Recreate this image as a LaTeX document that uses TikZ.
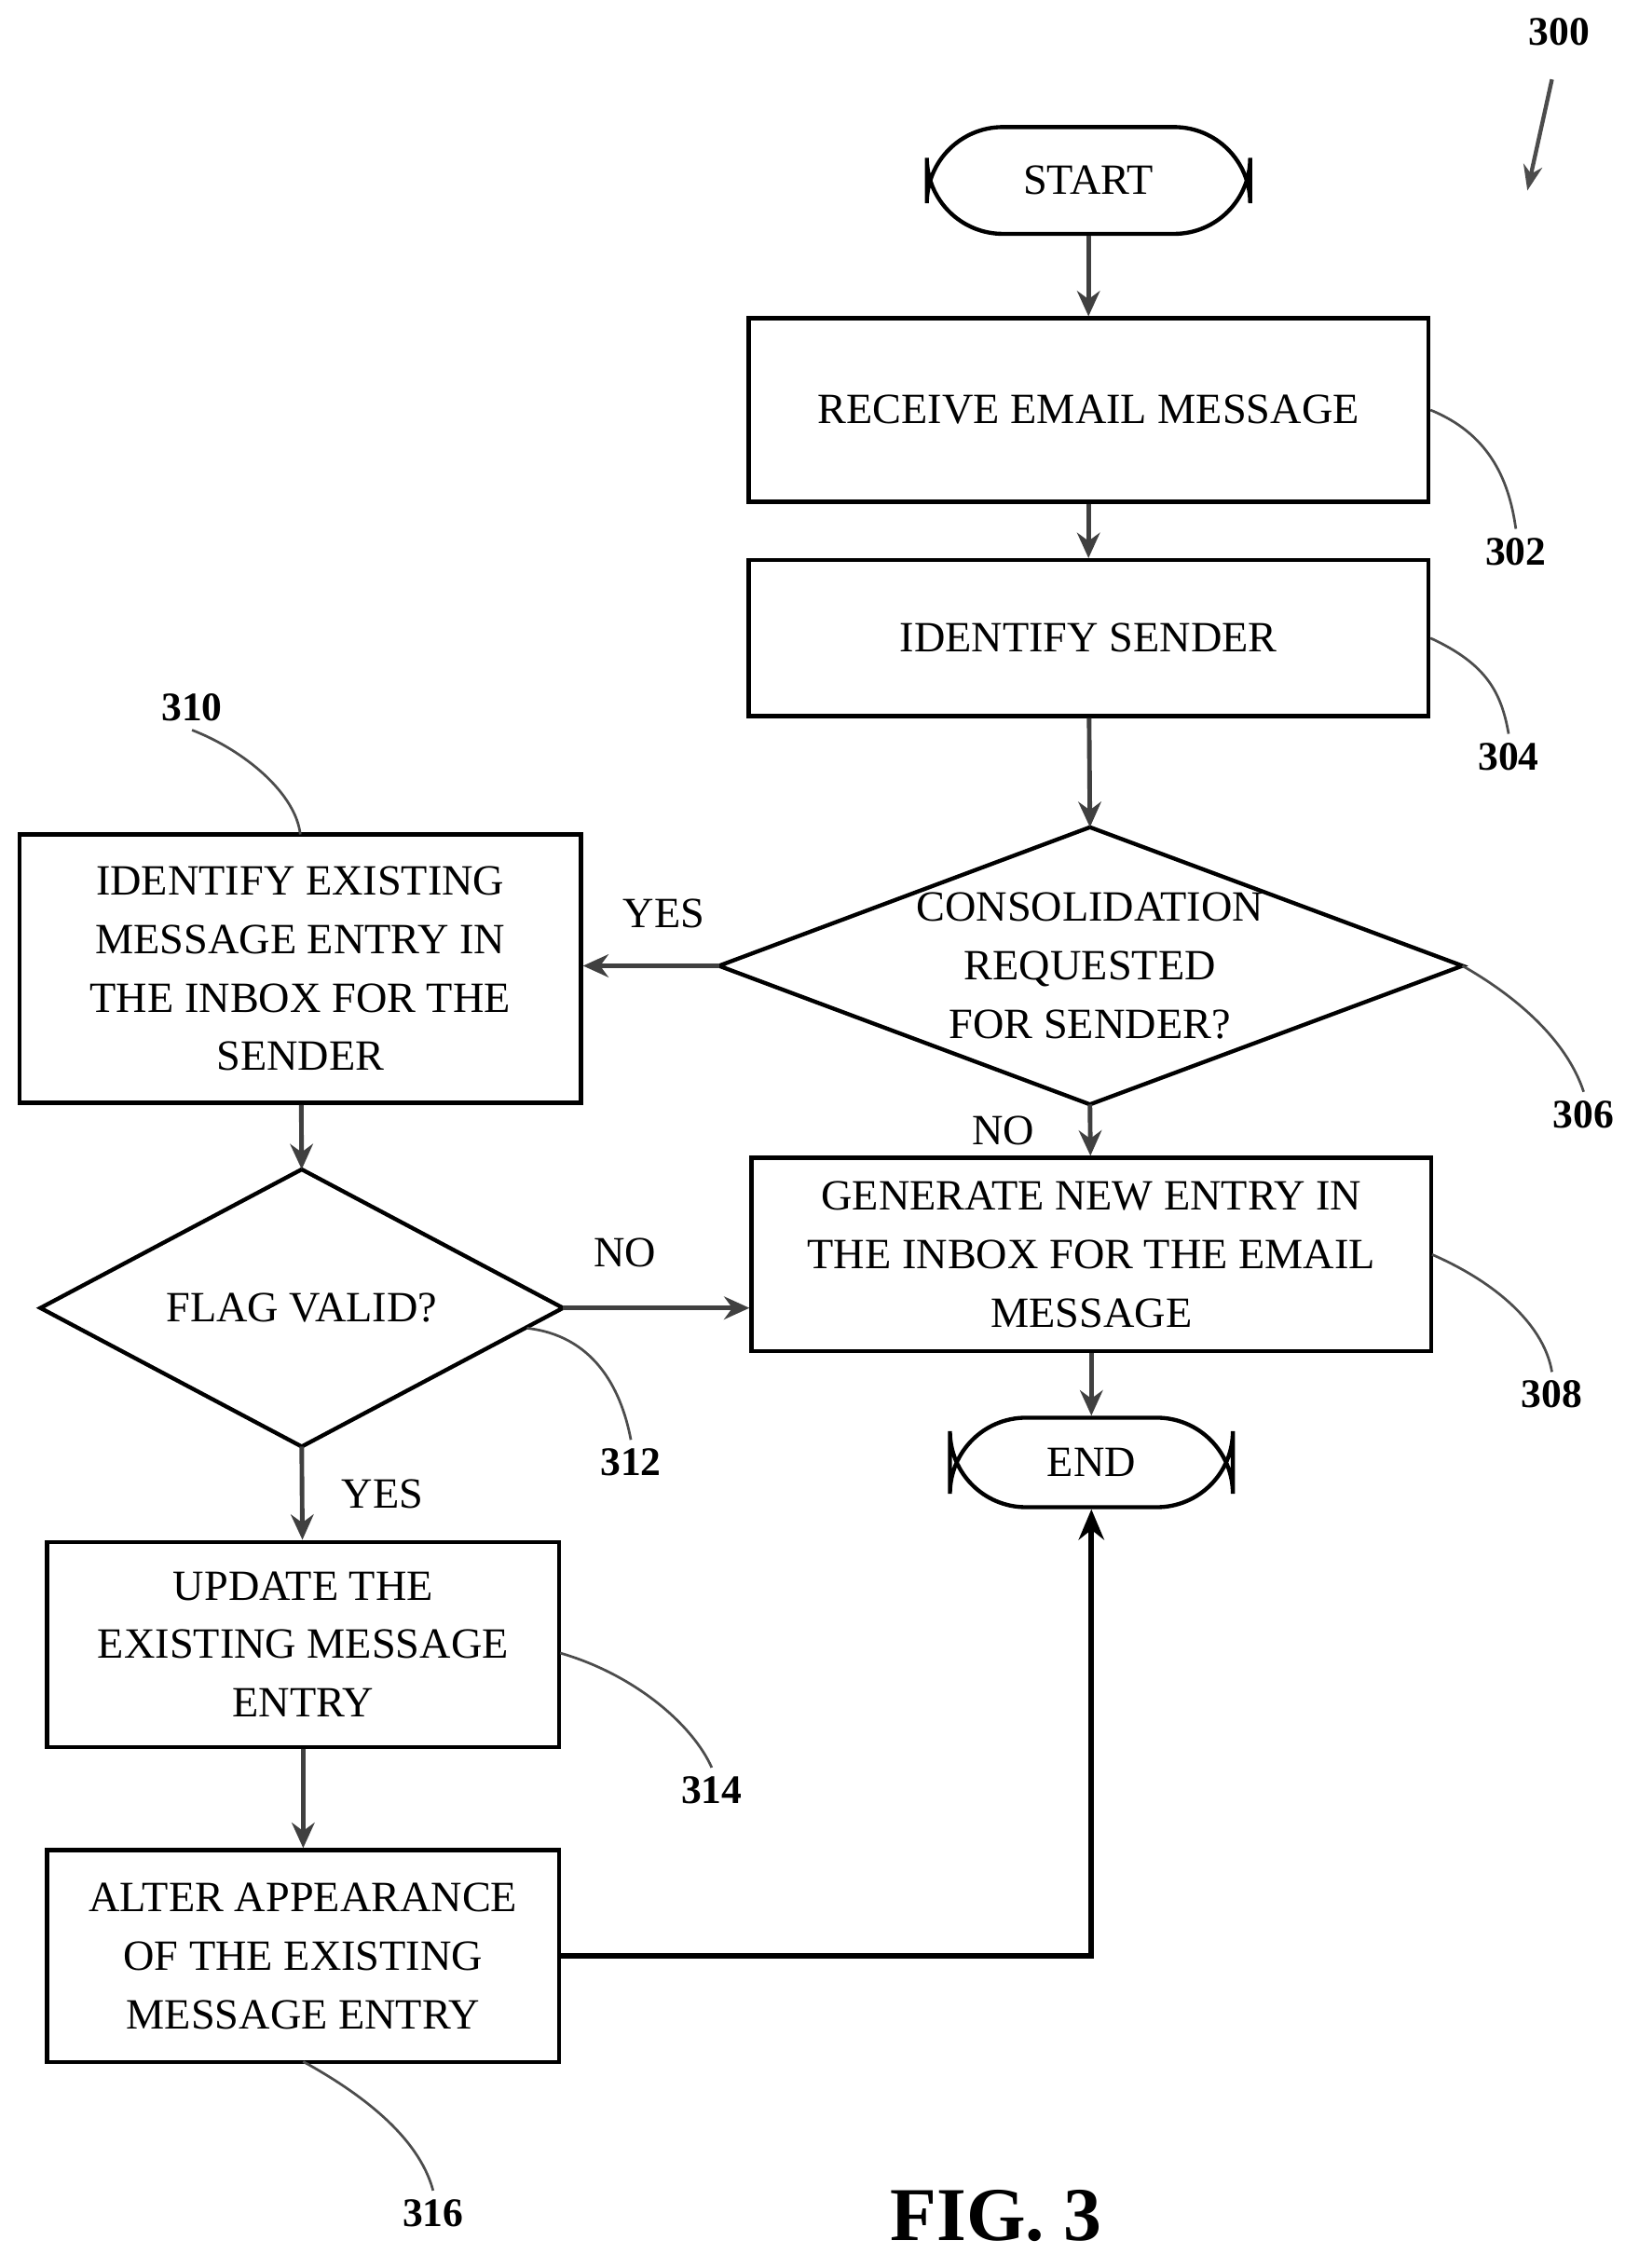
\documentclass[tikz,border=0pt]{standalone}
\usepackage{fontspec}
\setmainfont{Liberation Serif}
\usetikzlibrary{shapes.geometric,arrows.meta}
\begin{document}
\begin{tikzpicture}[x=0.02cm,y=-0.02cm,
 every node/.style={font=\fontsize{17}{23}\selectfont},
 box/.style={draw,line width=1.6pt,align=center,inner sep=0pt},
 term/.style={draw,line width=1.6pt,rounded corners=30pt,minimum width=3.9cm,minimum height=1.4cm},
 dia/.style={draw,line width=1.6pt,diamond,aspect=2.7,inner sep=0pt,align=center},
 arr/.style={-{Stealth[length=10pt,width=9pt]},line width=1.8pt,draw=black!75},
 lead/.style={line width=1pt,draw=black!70},
 ref/.style={font=\fontsize{16}{18}\selectfont\bfseries}]
\useasboundingbox (0,0) rectangle (1135,1571);
\node[term,minimum width=4.48cm,minimum height=1.48cm] (start) at (754,125) {START};
\node[box,minimum width=9.42cm,minimum height=2.54cm] (b302) at (754,284) {RECEIVE EMAIL MESSAGE};
\node[box,minimum width=9.42cm,minimum height=2.16cm] (b304) at (754,442) {IDENTIFY SENDER};
\draw[line width=1.6pt] (498,669) -- (755,573) -- (1013,669) -- (755,765) -- cycle;
\coordinate (d306) at (755,669);
\node[align=center] (t306) at (755,669) {CONSOLIDATION\\REQUESTED\\FOR SENDER?};
\coordinate (d306l) at (498,669); \coordinate (d306b) at (755,765);
\node[box,minimum width=7.78cm,minimum height=3.72cm] (b310) at (208,671) {IDENTIFY EXISTING\\MESSAGE ENTRY IN\\THE INBOX FOR THE\\SENDER};
\node[box,minimum width=9.42cm,minimum height=2.68cm] (b308) at (756,869) {GENERATE NEW ENTRY IN\\THE INBOX FOR THE EMAIL\\MESSAGE};
\node[term,minimum width=3.92cm,minimum height=1.24cm] (end) at (756,1013) {END};
\draw[line width=1.6pt] (28,906) -- (209,810) -- (390,906) -- (209,1002) -- cycle;
\node (t312) at (209,906) {FLAG VALID?};
\coordinate (d312t) at (209,810); \coordinate (d312r) at (390,906); \coordinate (d312b) at (209,1002);
\node[box,minimum width=7.1cm,minimum height=2.84cm] (b314) at (210,1139) {UPDATE THE\\EXISTING MESSAGE\\ENTRY};
\node[box,minimum width=7.1cm,minimum height=2.94cm] (b316) at (210,1355) {ALTER APPEARANCE\\OF THE EXISTING\\MESSAGE ENTRY};
\draw[arr] (start) -- (b302);
\draw[arr] (b302) -- (b304);
\draw[arr] (b304) -- (755,573);
\draw[arr] (d306l) -- (b310.east |- d306l);
\draw[arr] (d306b) -- (b308);
\draw[arr] (b310) -- (d312t);
\draw[arr] (d312r) -- (b308.west |- d312r);
\draw[arr] (b308) -- (end);
\draw[arr] (d312b) -- (b314);
\draw[arr] (b314) -- (b316);
\draw[-{Stealth[length=12pt,width=10pt]},line width=2.2pt] (b316.east) -| (end.south);
\node at (460,633) {YES};
\node at (695,783) {NO};
\node at (433,868) {NO};
\node at (265,1035) {YES};
\node[ref] (r300) at (1080,22) {300};
\coordinate (a300) at (1058,132);
\draw[lead,-{Stealth[length=10pt]},line width=1.6pt] (1075,55) -- (a300);
\node[ref] (r302) at (1050,382) {302};
\draw[lead] (b302.east) .. controls (1030,300) and (1045,330) .. (r302.north);
\node[ref] (r304) at (1045,524) {304};
\draw[lead] (b304.east) .. controls (1030,460) and (1040,480) .. (r304.north);
\node[ref] (r306) at (1097,772) {306};
\draw[lead] (1013,669) .. controls (1050,690) and (1085,720) .. (r306.north);
\node[ref] (r308) at (1075,966) {308};
\draw[lead] (992,869) .. controls (1040,890) and (1070,920) .. (r308.north);
\node[ref] (r310) at (133,490) {310};
\draw[lead] (r310.south) .. controls (170,520) and (205,550) .. (208,578);
\node[ref] (r312) at (437,1013) {312};
\draw[lead] (365,920) .. controls (410,925) and (430,960) .. (r312.north);
\node[ref] (r314) at (493,1240) {314};
\draw[lead] (388,1145) .. controls (440,1160) and (480,1195) .. (r314.north);
\node[ref] (r316) at (300,1533) {316};
\draw[lead] (210,1428) .. controls (250,1450) and (290,1480) .. (r316.north);
\node[font=\fontsize{30}{34}\selectfont\bfseries] (fig) at (690,1535) {FIG. 3};
\end{tikzpicture}
\end{document}
